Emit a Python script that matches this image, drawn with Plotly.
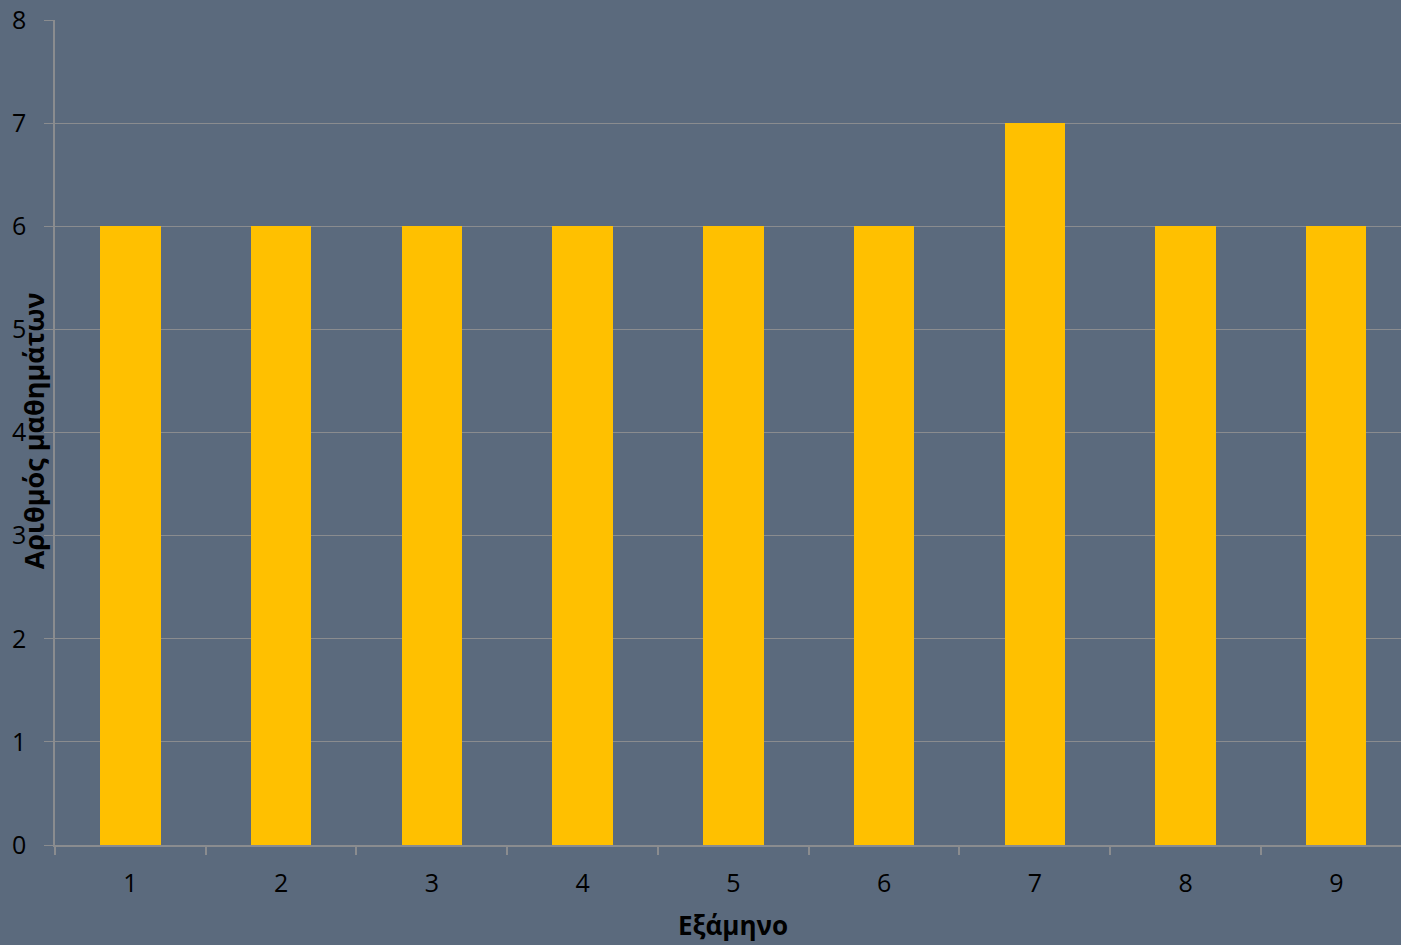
import plotly.graph_objects as go

semesters = [1, 2, 3, 4, 5, 6, 7, 8, 9]
courses = [6, 6, 6, 6, 6, 6, 7, 6, 6]
y_title = "Αριθμός μαθημάτων"
x_title = "Εξάμηνο"

BG = "#5b6a7d"
GRID = "#8a8c8f"
FONT = "Open Sans, Liberation Sans, sans-serif"

fig = go.Figure()
fig.add_trace(go.Bar(x=semesters, y=courses, width=0.4,
                     marker=dict(color="#ffc000", line=dict(width=0))))

fig.update_layout(
    width=1401, height=945,
    margin=dict(l=55, r=0, t=20, b=100),
    paper_bgcolor=BG, plot_bgcolor=BG,
    font=dict(family=FONT, size=25, color="#000000"),
    showlegend=False,
    bargap=0,
)
fig.update_xaxes(
    type="linear", range=[0.5, 9.429],
    tickvals=semesters, ticktext=[str(s) for s in semesters],
    ticks="", showgrid=False, zeroline=False,
    showline=True, linecolor=GRID, linewidth=1.5,
    minor=dict(tickvals=[s - 0.5 for s in semesters], ticks="outside",
               ticklen=8, tickcolor=GRID, tickwidth=1.5, showgrid=False),
    tickfont=dict(size=25),
    ticklabelstandoff=15,
)
fig.update_yaxes(
    range=[0, 8], dtick=1,
    showgrid=True, gridcolor=GRID, gridwidth=1.2,
    zeroline=False, showline=True, linecolor=GRID, linewidth=1.5,
    ticks="outside", ticklen=9, tickcolor=GRID, tickwidth=1.2,
    tickfont=dict(size=25),
    ticklabelstandoff=13,
)
fig.add_annotation(text=f"<b>{y_title}</b>", textangle=-90,
                   xref="paper", yref="paper", x=-0.016, y=0.502,
                   xanchor="center", yanchor="middle", showarrow=False,
                   font=dict(size=27, color="#000000"))
fig.add_annotation(text=f"<b>{x_title}</b>",
                   xref="paper", yref="paper", x=0.504, y=-0.097,
                   xanchor="center", yanchor="middle", showarrow=False,
                   font=dict(size=26, color="#000000"))

fig.write_html("out.html")
